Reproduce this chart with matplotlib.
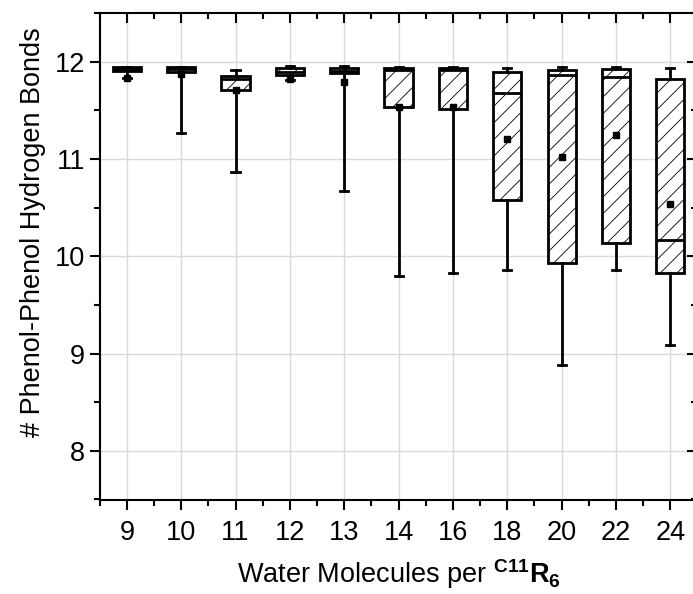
import matplotlib
matplotlib.use("Agg")
import matplotlib.pyplot as plt
from matplotlib.ticker import MultipleLocator

# Water molecules per ring (categories) and box statistics
categories = ['9', '10', '11', '12', '13', '14', '16', '18', '20', '22', '24']
q1 = [11.90, 11.89, 11.71, 11.86, 11.88, 11.53, 11.51, 10.58, 9.93, 10.14, 9.83]
q3 = [11.94, 11.94, 11.85, 11.93, 11.93, 11.93, 11.93, 11.89, 11.91, 11.92, 11.82]
medians = [11.92, 11.92, 11.82, 11.89, 11.90, 11.91, 11.91, 11.68, 11.86, 11.84, 10.17]
whis_lo = [11.83, 11.27, 10.87, 11.81, 10.67, 9.80, 9.83, 9.86, 8.88, 9.86, 9.09]
whis_hi = [11.95, 11.95, 11.91, 11.96, 11.96, 11.95, 11.95, 11.93, 11.95, 11.95, 11.93]
means = [11.83, 11.87, 11.71, 11.82, 11.79, 11.53, 11.53, 11.20, 11.02, 11.25, 10.54]

plt.rcParams['font.family'] = ['Liberation Sans', 'DejaVu Sans']
plt.rcParams['mathtext.fontset'] = 'custom'
plt.rcParams['mathtext.rm'] = 'Liberation Sans'
plt.rcParams['mathtext.bf'] = 'Liberation Sans:bold'
plt.rcParams['hatch.linewidth'] = 0.6

fig = plt.figure(figsize=(6.93, 5.94), dpi=100)
ax = fig.add_axes([99.7 / 693, 1 - 499.5 / 594, (697.5 - 99.7) / 693, (499.5 - 13) / 594])

stats = []
for i in range(len(categories)):
    stats.append({
        'label': categories[i],
        'q1': q1[i], 'q3': q3[i], 'med': medians[i],
        'whislo': whis_lo[i], 'whishi': whis_hi[i],
        'mean': means[i], 'fliers': [],
    })

positions = list(range(len(categories)))
ax.bxp(stats, positions=positions, widths=0.52, capwidths=0.15,
       patch_artist=True, showmeans=True,
       boxprops=dict(facecolor='white', edgecolor='black', linewidth=2.0, hatch='//'),
       medianprops=dict(color='black', linewidth=2.0),
       whiskerprops=dict(color='black', linewidth=2.0),
       capprops=dict(color='black', linewidth=2.0),
       meanprops=dict(marker='s', markerfacecolor='black', markeredgecolor='black',
                      markersize=5))

ax.set_xlim(-0.5, len(categories) - 0.5)
ax.set_ylim(7.5, 12.5)
ax.set_xticks(positions)
ax.set_xticklabels(categories)
ax.xaxis.set_minor_locator(MultipleLocator(0.5))
ax.yaxis.set_major_locator(MultipleLocator(1))
ax.yaxis.set_minor_locator(MultipleLocator(0.5))

ax.grid(True, which='major', color='#d9d9d9', linewidth=1.0)
ax.set_axisbelow(True)

for s in ax.spines.values():
    s.set_linewidth(1.5)

ax.tick_params(axis='both', which='major', labelsize=19.5, width=1.5, length=7)
ax.tick_params(axis='x', which='major', pad=8)
ax.tick_params(axis='both', which='minor', width=1.5, length=4)
ax.tick_params(axis='x', which='both', top=True, bottom=True)
ax.tick_params(axis='y', which='both', left=True, right=True)
# outward on bottom/left, inward on top/right like the original
ax.tick_params(which='both', direction='out')
for tick in ax.xaxis.get_major_ticks() + ax.xaxis.get_minor_ticks():
    tick.tick2line.set_marker(3)
for tick in ax.yaxis.get_major_ticks() + ax.yaxis.get_minor_ticks():
    tick.tick2line.set_marker(0)

ax.set_xlabel(r'Water Molecules per $^{\mathbf{C11}}\mathbf{R}_{\mathbf{6}}$', fontsize=19.5, labelpad=8)
ax.set_ylabel('# Phenol-Phenol Hydrogen Bonds', fontsize=19.5)
ax.yaxis.set_label_coords(-0.09, (499.5 - 232) / 486.5)

plt.savefig("out.png", dpi=100)
